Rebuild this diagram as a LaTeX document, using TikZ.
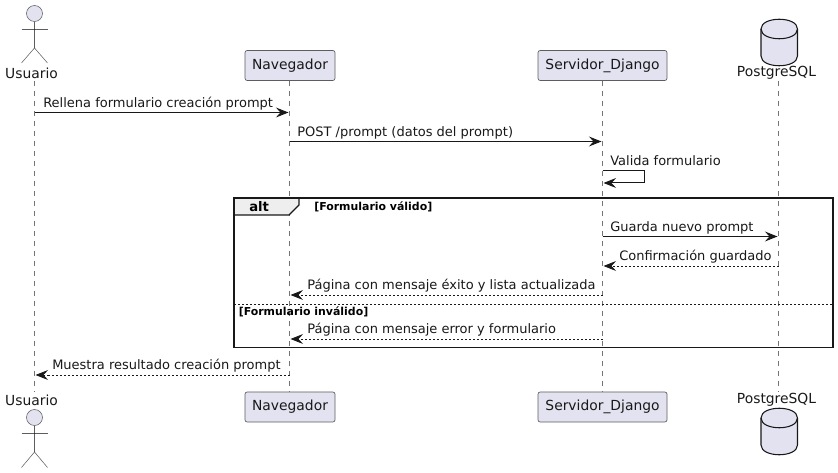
\documentclass[tikz,border=0pt]{standalone}
\usepackage{fontspec}
\setmainfont{DejaVu Sans}
\usetikzlibrary{arrows.meta}
\definecolor{partfill}{HTML}{E2E2F0}
\definecolor{ink}{HTML}{181818}
\definecolor{tabfill}{HTML}{EEEEEE}
\tikzset{
  x=0.75pt,y=-0.75pt,
  lifeline/.style={draw=ink,line width=0.4pt,dash pattern=on 3.75pt off 3.75pt,opacity=.6},
  openhead/.style={-{Stealth[length=9.5pt,width=7.5pt,inset=3.6pt]}},
  msg/.style={draw=ink,line width=0.75pt,openhead},
  reply/.style={draw=ink,line width=0.6pt,dash pattern=on 1.5pt off 1.5pt,openhead},
  msglabel/.style={anchor=base west,inner sep=0pt,font=\fontsize{9.75}{11}\selectfont,text=ink},
  partname/.style={inner sep=0pt,font=\fontsize{10.4}{12}\selectfont,text=ink},
  partbox/.style={draw=ink!70,fill=partfill,line width=0.5pt,rounded corners=1.6pt,minimum height=22.5pt,inner sep=0pt,font=\fontsize{10.4}{12}\selectfont,text=ink},
  actorline/.style={draw=ink,line width=0.4pt,opacity=.7},
  actorhead/.style={draw=ink!70,fill=partfill,circle,minimum size=12pt,inner sep=0pt,line width=0.4pt},
  dbshape/.style={draw=ink,fill=partfill,line width=0.8pt},
  framebox/.style={draw=ink,line width=1.4pt},
  guard/.style={anchor=base west,inner sep=0pt,font=\fontsize{8.2}{9}\bfseries\selectfont,text=black},
}
\begin{document}
\begin{tikzpicture}
\useasboundingbox (0,0) rectangle (838,473);
% lifeline ends
\foreach \n/\x in {u/34.5,n/289.5,s/602.5,p/778.5}{
  \coordinate (\n top) at (\x,81);
  \coordinate (\n bot) at (\x,392);
}
\draw[lifeline] (utop) -- (ubot);
\draw[lifeline] (ntop) -- (nbot);
\draw[lifeline] (stop) -- (sbot);
\draw[lifeline] (ptop) -- (pbot);
% participants
\node[partbox,minimum width=67.5pt] (navtop) at (290,65.5) {Navegador};
\node[partbox,minimum width=96.75pt] (srvtop) at (602.5,65.5) {Servidor\_Django};
\node[partbox,minimum width=67.5pt] (navbot) at (290,407) {Navegador};
\node[partbox,minimum width=96.75pt] (srvbot) at (602.5,407) {Servidor\_Django};
% actors
\node[partname] (usrtop) at (31.5,73) {Usuario};
\node[partname] (usrbot) at (31.5,400) {Usuario};
\node[actorhead] (headtop) at (34.5,13.5) {};
\coordinate (hiptop) at (34.5,48);
\coordinate (armLtop) at (21.5,29);
\coordinate (armRtop) at (47.5,29);
\coordinate (legLtop) at (21.5,63);
\coordinate (legRtop) at (47.5,63);
\draw[actorline] (headtop) -- (hiptop);
\draw[actorline] (armLtop) -- (armRtop);
\draw[actorline] (legLtop) -- (hiptop) -- (legRtop);
\node[actorhead] (headbot) at (34.5,417.5) {};
\coordinate (hipbot) at (34.5,452);
\coordinate (armLbot) at (21.5,433);
\coordinate (armRbot) at (47.5,433);
\coordinate (legLbot) at (21.5,467.5);
\coordinate (legRbot) at (47.5,467.5);
\draw[actorline] (headbot) -- (hipbot);
\draw[actorline] (armLbot) -- (armRbot);
\draw[actorline] (legLbot) -- (hipbot) -- (legRbot);
% databases
\draw[dbshape] (761,29) .. controls (761,16) and (797.5,16) .. (797.5,29) -- (797.5,56)
  .. controls (797.5,69) and (761,69) .. (761,56) -- cycle;
\draw[dbshape,fill=none] (761,29) .. controls (761,42) and (797.5,42) .. (797.5,29);
\node[partname] (pgtop) at (776.5,73) {PostgreSQL};
\draw[dbshape] (761,418) .. controls (761,405) and (797.5,405) .. (797.5,418) -- (797.5,445)
  .. controls (797.5,458) and (761,458) .. (761,445) -- cycle;
\draw[dbshape,fill=none] (761,418) .. controls (761,431) and (797.5,431) .. (797.5,418);
\node[partname] (pgbot) at (776.5,400) {PostgreSQL};
% alt frame
\draw[framebox,line width=1pt,fill=tabfill] (234,198) -- (299,198) -- (299,205) -- (289,215) -- (234,215) -- cycle;
\draw[framebox] (234,198) rectangle (833,347.5);
\node[anchor=base west,inner sep=0pt,font=\fontsize{9.9}{11}\bfseries\selectfont,text=black] (altlabel) at (249,212) {alt};
\node[guard] (g1) at (314,210.5) {[Formulario válido]};
\node[guard] (g2) at (238.5,315.5) {[Formulario inválido]};
\coordinate (sepL) at (234,304.5);
\coordinate (sepR) at (833,304.5);
\draw[draw=ink,line width=0.6pt,dash pattern=on 1.5pt off 1.5pt] (sepL) -- (sepR);
% messages
\foreach \n/\a/\b/\y in {m1/34.5/288.5/112.5,m2/289.5/601.5/141.5,m4/602.5/777.5/236.5,
  m5/778.5/603.5/266,m6/602.5/290.5/295,m7/602.5/290.5/339,m8/289.5/35.5/375}{
  \coordinate (\n a) at (\a,\y);
  \coordinate (\n b) at (\b,\y);
}
\draw[msg] (m1a) -- (m1b);
\node[msglabel] (l1) at (43,107.5) {Rellena formulario creación prompt};
\draw[msg] (m2a) -- (m2b);
\node[msglabel] (l2) at (297,136.5) {POST /prompt (datos del prompt)};
\coordinate (m3a) at (602.5,170.5);
\coordinate (m3c1) at (644.5,170.5);
\coordinate (m3c2) at (644.5,183);
\coordinate (m3b) at (603.5,183);
\draw[msg] (m3a) -- (m3c1) -- (m3c2) -- (m3b);
\node[msglabel] (l3) at (610,166) {Valida formulario};
\draw[msg] (m4a) -- (m4b);
\node[msglabel] (l4) at (610,232) {Guarda nuevo prompt};
\draw[reply] (m5a) -- (m5b);
\node[msglabel] (l5) at (619,261) {Confirmación guardado};
\draw[reply] (m6a) -- (m6b);
\node[msglabel] (l6) at (307,290) {Página con mensaje éxito y lista actualizada};
\draw[reply] (m7a) -- (m7b);
\node[msglabel] (l7) at (307,334) {Página con mensaje error y formulario};
\draw[reply] (m8a) -- (m8b);
\node[msglabel] (l8) at (52,370) {Muestra resultado creación prompt};
\end{tikzpicture}
\end{document}
